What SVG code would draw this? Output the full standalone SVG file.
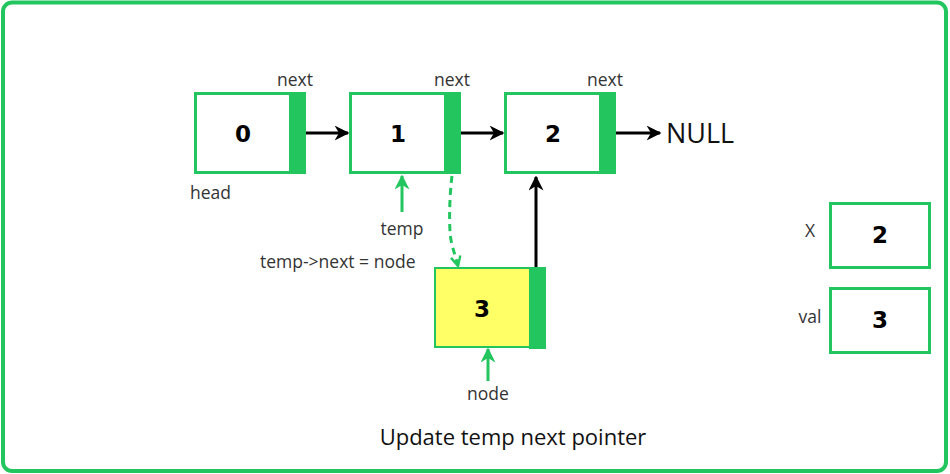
<svg xmlns="http://www.w3.org/2000/svg" width="950" height="474" viewBox="0 0 950 474">
<defs>
<style>
.box{fill:#fff;stroke:#22c55e;stroke-width:3}
.bar{fill:#22c55e}
.num{font-family:"DejaVu Sans",sans-serif;font-weight:bold;font-size:23px;fill:#000;text-anchor:middle}
.lbl{font-family:"Open Sans","Noto Sans",sans-serif;font-size:17.5px;fill:#333}
.blk{stroke:#000;stroke-width:3;fill:none}
.grn{stroke:#22c55e;stroke-width:3;fill:none}
</style>
<marker id="ah" viewBox="0 0 10 10" refX="9" refY="5" markerWidth="5" markerHeight="5" orient="auto" markerUnits="strokeWidth">
<path d="M0,0 L10,5 L0,10 L3,5 z" fill="#000"/>
</marker>
<marker id="ahg" viewBox="0 0 10 10" refX="9" refY="5" markerWidth="5" markerHeight="5" orient="auto" markerUnits="strokeWidth">
<path d="M0,0 L10,5 L0,10 L3,5 z" fill="#22c55e"/>
</marker>
<marker id="ahgo" viewBox="0 0 10 10" refX="9" refY="5" markerWidth="4" markerHeight="4" orient="auto" markerUnits="strokeWidth">
<path d="M1,1 L9,5 L1,9" fill="none" stroke="#22c55e" stroke-width="2"/>
</marker>
</defs>
<rect x="3" y="2.5" width="943" height="468.5" rx="9" fill="#fff" stroke="#22c55e" stroke-width="4"/>

<g id="node0">
<rect class="box" x="195.5" y="93.5" width="109" height="79"/>
<rect class="bar" x="289" y="92" width="17" height="82"/>
<text class="num" x="243" y="142">0</text>
<text class="lbl" x="277" y="86">next</text>
<text class="lbl" x="190" y="199">head</text>
</g>
<g id="node1">
<rect class="box" x="350.5" y="93.5" width="109" height="79"/>
<rect class="bar" x="444" y="92" width="17" height="82"/>
<text class="num" x="398" y="142">1</text>
<text class="lbl" x="434" y="86">next</text>
</g>
<g id="node2">
<rect class="box" x="505.5" y="93.5" width="109" height="79"/>
<rect class="bar" x="599" y="92" width="17" height="82"/>
<text class="num" x="553" y="142">2</text>
<text class="lbl" x="587" y="86">next</text>
</g>
<g id="null">
<text x="666" y="143" font-family="'Open Sans','Noto Sans',sans-serif" font-size="27" fill="#111">NULL</text>
</g>
<g id="node3">
<rect x="435" y="268" width="110" height="79" fill="#ffff66" stroke="#22c55e" stroke-width="2"/>
<rect class="bar" x="529" y="267" width="17" height="82"/>
<text class="num" x="482" y="317">3</text>
</g>
<g id="temp">
<text class="lbl" x="402" y="235" text-anchor="middle" fill="#111">temp</text>
</g>
<g id="nodeLabel">
<text class="lbl" x="488" y="400" text-anchor="middle" fill="#111">node</text>
</g>
<g id="assign">
<text class="lbl" x="260" y="268">temp-&gt;next = node</text>
</g>
<g id="varX">
<text class="lbl" x="810" y="237" text-anchor="middle">X</text>
<rect class="box" x="830.5" y="203.5" width="99" height="64"/>
<text class="num" x="880" y="243" font-size="20">2</text>
</g>
<g id="varVal">
<text class="lbl" x="810" y="323" text-anchor="middle">val</text>
<rect class="box" x="830.5" y="288.5" width="99" height="64"/>
<text class="num" x="880" y="328" font-size="20">3</text>
</g>
<g id="caption">
<text x="513" y="445" text-anchor="middle" font-family="'Open Sans','Noto Sans',sans-serif" font-size="22" fill="#111">Update temp next pointer</text>
</g>

<g id="connectors">
<line class="blk" x1="306" y1="133" x2="348" y2="133" marker-end="url(#ah)"/>
<line class="blk" x1="461" y1="133" x2="503" y2="133" marker-end="url(#ah)"/>
<line class="blk" x1="616" y1="133" x2="660" y2="133" marker-end="url(#ah)"/>
<line class="blk" x1="536" y1="267" x2="536" y2="177" marker-end="url(#ah)"/>
<line class="grn" x1="402" y1="212" x2="402" y2="176" marker-end="url(#ahg)"/>
<line class="grn" x1="488" y1="381" x2="488" y2="349" marker-end="url(#ahg)"/>
<path class="grn" d="M452,176 C449,200 449,230 451,240 C453,250 456,258 458,266" stroke-dasharray="7,5" marker-end="url(#ahgo)"/>
</g>
</svg>
